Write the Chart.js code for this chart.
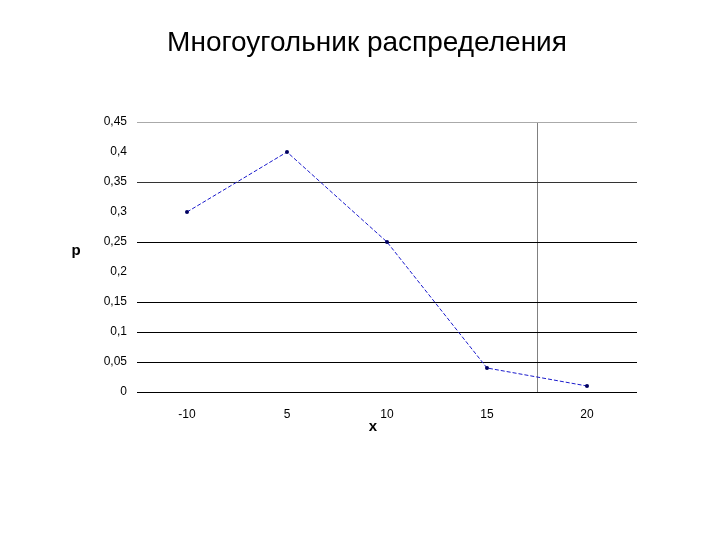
<!DOCTYPE html>
<html><head><meta charset="utf-8">
<script src="https://cdn.jsdelivr.net/npm/chart.js@4"></script>
<style>html,body{margin:0;padding:0;background:#fff}#w{width:720px;height:540px}</style>
</head><body><div id="w"><canvas id="c" width="720" height="540"></canvas></div>
<script>
const titleText = "Многоугольник распределения";
const categories = ["-10", "5", "10", "15", "20"];
const probabilities = [0.3, 0.4, 0.25, 0.04, 0.01];
const yTicks = [0, 0.05, 0.1, 0.15, 0.2, 0.25, 0.3, 0.35, 0.4, 0.45];
const xTitle = "x";
const yTitle = "p";

const FONT = "'Liberation Sans', Arial, sans-serif";

const textPlugin = {
  id: 'texts',
  afterDraw(chart) {
    const ctx = chart.ctx, a = chart.chartArea;
    ctx.save();
    ctx.fillStyle = '#000';
    ctx.textAlign = 'center';
    ctx.textBaseline = 'middle';
    ctx.font = '28px ' + FONT;
    ctx.fillText(titleText, 367, 43);
    ctx.font = 'bold 15px ' + FONT;
    ctx.fillText(xTitle, a.left + (a.right - a.left) * 0.472, a.bottom + 35);
    ctx.fillText(yTitle, 76, (a.top + a.bottom) / 2 - 6);
    ctx.restore();
  }
};

new Chart(document.getElementById('c'), {
  type: 'line',
  data: {
    labels: categories,
    datasets: [{
      data: probabilities,
      borderColor: '#1a1acc',
      borderWidth: 1,
      borderDash: [4, 2],
      pointRadius: 2,
      pointBackgroundColor: '#000060',
      pointBorderColor: '#000060',
      pointBorderWidth: 0,
      tension: 0
    }]
  },
  options: {
    responsive: false,
    animation: false,
    layout: { padding: { top: 122, right: 83, left: 0, bottom: 0 } },
    plugins: { legend: { display: false }, title: { display: false }, tooltip: { enabled: false } },
    scales: {
      x: {
        type: 'category',
        offset: true,
        border: { display: false },
        grid: {
          offset: true,
          drawTicks: false,
          color: (c) => (c.index === 4 ? '#808080' : 'rgba(0,0,0,0)'),
          lineWidth: 1
        },
        ticks: { color: '#000', font: { family: FONT, size: 12 }, padding: 15, maxRotation: 0 },
        afterFit: (s) => { s.height = 148; }
      },
      y: {
        min: 0, max: 0.45,
        border: { display: false },
        afterBuildTicks: (s) => { s.ticks = yTicks.map(v => ({ value: v })); },
        grid: {
          drawTicks: false,
          color: (c) => {
            const v = c.tick ? Math.round(c.tick.value * 100) : -1;
            if (v === 45) return '#aaaaaa';
            if (v === 40 || v === 30 || v === 20) return 'rgba(0,0,0,0)';
            if (v === 35) return '#333333';
            return '#000000';
          },
          lineWidth: 1
        },
        ticks: {
          color: '#000', font: { family: FONT, size: 12 }, padding: 10,
          callback: (v) => String(Math.round(v * 100) / 100).replace('.', ',')
        },
        afterFit: (s) => { s.width = 137; }
      }
    }
  },
  plugins: [textPlugin]
});
</script>
</body></html>
